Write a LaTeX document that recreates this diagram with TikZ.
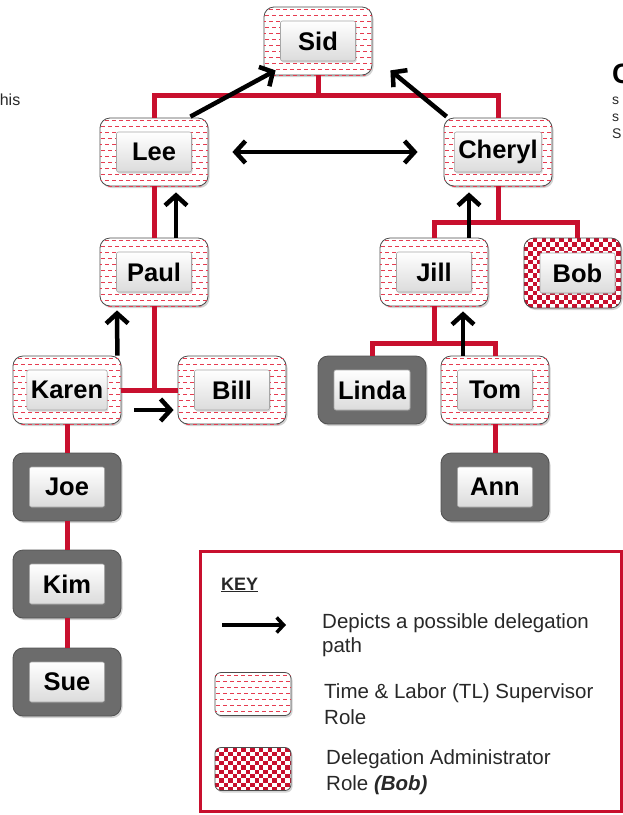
\documentclass[tikz,border=0pt]{standalone}
\usepackage{fontspec}
\setmainfont{Liberation Sans}
\usetikzlibrary{arrows.meta,shadows}

\definecolor{tlred}{RGB}{200,16,46}
\definecolor{darkbox}{RGB}{108,108,108}
\definecolor{txt}{RGB}{40,40,40}

\tikzset{
 boxbase/.style={draw=gray!60!black, line width=0.8pt, rounded corners=10pt,
   minimum width=108pt, minimum height=68pt, inner sep=0pt,
   drop shadow={shadow xshift=1.5pt, shadow yshift=-2pt, opacity=0.35}},
 chkfill/.style={fill=white, path picture={
   \foreach \i in {0,...,27}{\foreach \j in {0,...,17}{
     \pgfmathtruncatemacro\pp{mod(\i+\j,2)}
     \ifnum\pp=0
       \fill[fill=tlred, sharp corners] ([shift={(\i*4.4,\j*4.4)}]path picture bounding box.north west) rectangle ++(4.4,4.4);
     \fi}}}},
 tl/.style={boxbase, fill=white},
 dk/.style={boxbase, fill=darkbox, draw=darkbox!75!black},
 chk/.style={boxbase, chkfill},
 dashfill/.style={fill={rgb,255:red,230;green,60;blue,80}, sharp corners},
 lbl/.style={draw=gray!70, line width=0.6pt, rounded corners=2pt, top color=white,
   bottom color=gray!28, minimum width=75pt, minimum height=40pt, inner xsep=4pt,
   font=\bfseries\fontsize{25.5}{26}\selectfont, text=black,
   drop shadow={shadow xshift=1pt, shadow yshift=-1.5pt, opacity=0.3}},
 rl/.style={draw=tlred, line width=5pt},
 arr/.style={draw=black, line width=4.5pt, -{Straight Barb[length=10pt, width=22pt]}},
 darr/.style={draw=black, line width=4.5pt,
   {Straight Barb[length=10pt, width=22pt]}-{Straight Barb[length=10pt, width=22pt]}},
 karr/.style={draw=black, line width=3.5pt, -{Straight Barb[length=7pt, width=15pt]}},
 keytxt/.style={font=\fontsize{20.5}{25}\selectfont, text=txt, anchor=base west, inner sep=0pt},
 frag/.style={text=txt, inner sep=0pt}
}

% red dash pattern clipped to a role box
\newcommand\tldashes[2]{%
  \begin{scope}
    \clip[rounded corners=#2] ([shift={(0.6,-0.6)}]#1.north west) rectangle ([shift={(-0.6,0.6)}]#1.south east);
    \foreach \r in {0,...,14}{
      \pgfmathsetmacro\ph{mod(\r,2)*3.5-2}
      \foreach \c in {0,...,18}{
        \fill[dashfill] ([shift={(\c*7+\ph,\r*6+2.5)}]#1.north west) rectangle ++(4,1);
      }}
  \end{scope}}

\begin{document}
\begin{tikzpicture}[x=1pt,y=-1pt]
\useasboundingbox (0,0) rectangle (623,815);

% role boxes
\node[tl] (sid) at (318,41) {};
\node[tl] (lee) at (154,152) {};
\node[tl] (cheryl) at (498,152) {};
\node[tl] (paul) at (154,272) {};
\node[tl] (jill) at (434,272) {};
\node[chk, minimum width=97pt, minimum height=70pt] (bob) at (572.5,273) {};
\node[tl] (karen) at (67,390) {};
\node[tl] (bill) at (232,390) {};
\node[dk] (linda) at (372,390) {};
\node[tl] (tom) at (495,390) {};
\node[dk] (joe) at (67,487) {};
\node[dk] (ann) at (495,487) {};
\node[dk] (kim) at (67,584) {};
\node[dk] (sue) at (67,682) {};
\node[tl, minimum width=76pt, minimum height=43pt, rounded corners=6pt] (ktl) at (253,694) {};
\node[chk, minimum width=76pt, minimum height=43pt, rounded corners=6pt] (kchk) at (253,769) {};

\tldashes{sid}{10pt}
\tldashes{lee}{10pt}
\tldashes{cheryl}{10pt}
\tldashes{paul}{10pt}
\tldashes{jill}{10pt}
\tldashes{karen}{10pt}
\tldashes{bill}{10pt}
\tldashes{tom}{10pt}
\tldashes{ktl}{6pt}
\tldashes{sid}{10pt}
\tldashes{ktl}{6pt}

% name buttons
\node[lbl] (sidL) at (sid) {Sid};
\node[lbl] (leeL) at (lee) {Lee};
\node[lbl] (cherylL) at (cheryl) {Cheryl};
\node[lbl] (paulL) at (paul) {Paul};
\node[lbl] (jillL) at (jill) {Jill};
\node[lbl] (bobL) at ([xshift=5pt]bob.center) {Bob};
\node[lbl] (karenL) at (karen) {Karen};
\node[lbl] (billL) at (bill) {Bill};
\node[lbl] (lindaL) at (linda) {Linda};
\node[lbl] (tomL) at (tom) {Tom};
\node[lbl] (joeL) at (joe) {Joe};
\node[lbl] (annL) at (ann) {Ann};
\node[lbl] (kimL) at (kim) {Kim};
\node[lbl] (sueL) at (sue) {Sue};

% cut-off text fragments at the edges
\node[frag, anchor=base east, font=\fontsize{16}{18}\selectfont] (fragL) at (20.5,105) {this};
\node[frag, anchor=base west, font=\bfseries\fontsize{28}{30}\selectfont, text=black] (fragC) at (612,83) {C};
\node[frag, anchor=base west, font=\fontsize{14}{16}\selectfont] (fragS1) at (612,104) {s};
\node[frag, anchor=base west, font=\fontsize{14}{16}\selectfont] (fragS2) at (612,121) {s};
\node[frag, anchor=base west, font=\fontsize{14}{16}\selectfont] (fragS3) at (612,138) {S};

% reporting lines
\draw[rl] (sid.south) -- ++(0,21);
\draw[rl] (lee.north) -- ++(0,-22) -| (cheryl.north);
\draw[rl] (lee.south) -- (paul.north);
\draw[rl] (paul.south) -- (paul.south |- karen.east);
\draw[rl] (karen.east) -- (bill.west);
\draw[rl] (cheryl.south) -- ++(0,37);
\draw[rl] (jill.north) -- ++(0,-15) -| ([xshift=5pt]bob.north);
\draw[rl] (jill.south) -- ++(0,36);
\draw[rl] (linda.north) -- ++(0,-12) -| (tom.north);
\draw[rl] (karen.south) -- (joe.north);
\draw[rl] (joe.south) -- (kim.north);
\draw[rl] (kim.south) -- (sue.north);
\draw[rl] (tom.south) -- (ann.north);

% delegation paths
\draw[arr] ([shift={(-18,-1)}]lee.north east) -- ([shift={(12,-5)}]sid.south west);
\draw[arr] ([shift={(3,-1)}]cheryl.north west) -- ([shift={(18,-5)}]sid.south east);
\draw[darr] ([xshift=24pt]lee.east) -- ([xshift=-26pt]cheryl.west);
\draw[arr] ([xshift=22pt]paul.north) -- ([shift={(22,6)}]lee.south);
\draw[arr] ([shift={(-4,0)}]karen.north east) -- ([shift={(-37,4)}]paul.south);
\draw[arr] ([shift={(13,20)}]karen.east) -- ([shift={(-4,20)}]bill.west);
\draw[arr] ([xshift=35pt]jill.north) -- ([shift={(-29,6)}]cheryl.south);
\draw[arr] ([xshift=-32pt]tom.north) -- ([shift={(29,5)}]jill.south);

% key
\node[draw=tlred, line width=3pt, minimum width=421pt, minimum height=260pt, inner sep=0pt] (key) at (411,681.5) {};
\node[anchor=base west, inner sep=0pt, font=\bfseries\fontsize{18}{20}\selectfont, text=txt] (keyh) at (221,590) {\underline{KEY}};
\coordinate (ka) at (222,625);
\coordinate (kb) at (286,625);
\draw[karr] (ka) -- (kb);
\node[keytxt] (k1a) at (322,628) {Depicts a possible delegation};
\node[keytxt] (k1b) at (322,652) {path};
\node[keytxt] (k2a) at (324,698) {Time \& Labor (TL) Supervisor};
\node[keytxt] (k2b) at (324,724) {Role};
\node[keytxt] (k3a) at (326,764) {Delegation Administrator};
\node[keytxt] (k3b) at (326,790) {Role \textbf{\textit{(Bob)}}};
\end{tikzpicture}
\end{document}
